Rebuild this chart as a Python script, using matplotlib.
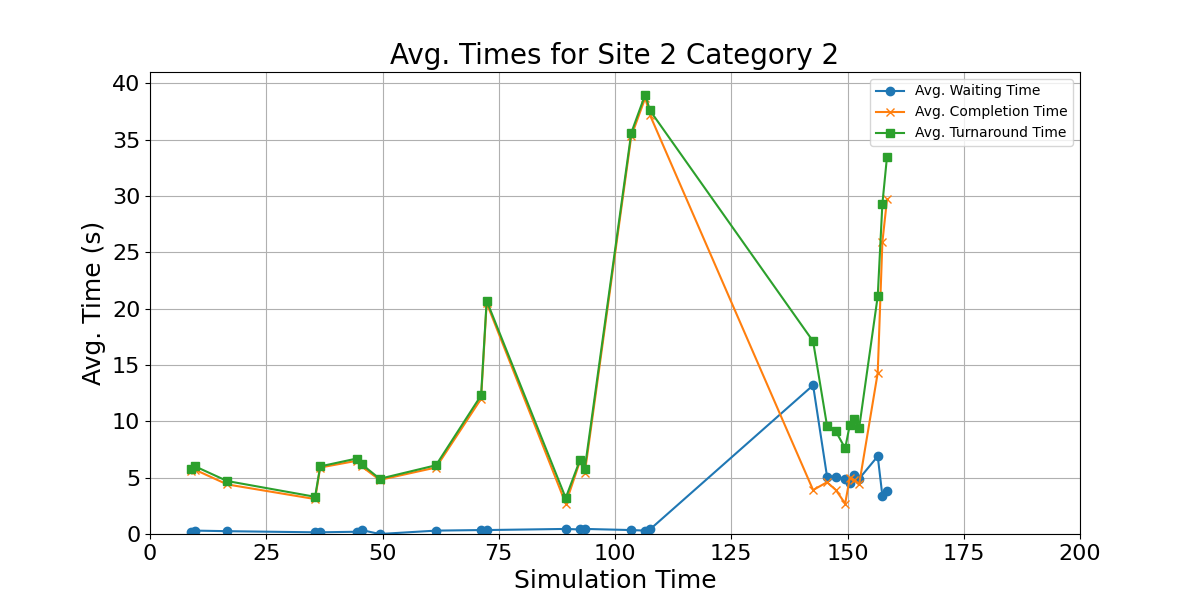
import matplotlib.pyplot as plt

sim_time = [8.8, 9.7, 16.6, 35.5, 36.6, 44.5, 45.5, 49.4, 61.5, 71.2, 72.4, 89.4, 92.5, 93.5,
            103.5, 106.5, 107.5, 142.6, 145.6, 147.5, 149.5, 150.5, 151.5, 152.5, 156.5, 157.5, 158.5]
waiting = [0.15, 0.3, 0.25, 0.15, 0.15, 0.2, 0.35, 0.0, 0.3, 0.35, 0.35, 0.45, 0.4, 0.45,
           0.35, 0.3, 0.4, 13.2, 5.1, 5.1, 4.9, 4.5, 5.2, 4.9, 6.9, 3.4, 3.8]
completion = [5.6, 5.7, 4.4, 3.1, 5.9, 6.5, 6.0, 4.8, 5.9, 12.0, 20.5, 2.7, 6.5, 5.4,
              35.3, 38.7, 37.2, 3.9, 4.6, 3.9, 2.7, 5.0, 4.8, 4.4, 14.3, 25.9, 29.7]
turnaround = [5.8, 6.0, 4.7, 3.3, 6.0, 6.7, 6.2, 4.9, 6.1, 12.3, 20.7, 3.2, 6.6, 5.8,
              35.6, 39.0, 37.6, 17.1, 9.6, 9.1, 7.6, 9.7, 10.2, 9.4, 21.1, 29.3, 33.5]

fig, ax = plt.subplots(figsize=(12, 6), dpi=100)
ax.plot(sim_time, waiting, marker='o', label='Avg. Waiting Time')
ax.plot(sim_time, completion, marker='x', label='Avg. Completion Time')
ax.plot(sim_time, turnaround, marker='s', label='Avg. Turnaround Time')

ax.set_title('Avg. Times for Site 2 Category 2', fontsize=20)
ax.set_xlabel('Simulation Time', fontsize=18)
ax.set_ylabel('Avg. Time (s)', fontsize=18)
ax.tick_params(labelsize=16)
ax.set_xlim(0, 200)
ax.set_ylim(0, 41)
ax.grid(True)
ax.legend(fontsize=10)

plt.savefig('out.png')
